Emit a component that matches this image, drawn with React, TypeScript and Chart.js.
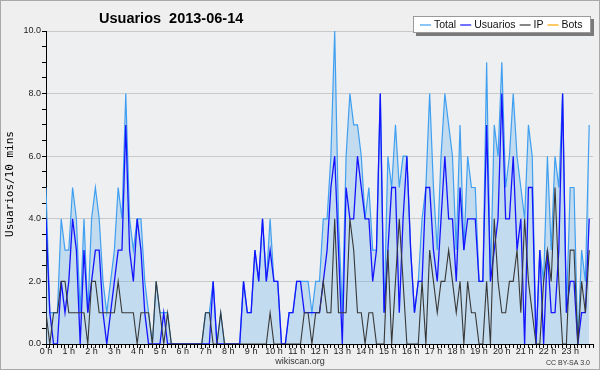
import React, { useEffect, useRef } from "react";
import { Chart, registerables } from "chart.js";

Chart.register(...registerables);

const TITLE = "Usuarios  2013-06-14";
const Y_TITLE = "Usuarios/10 mins";
const FOOTER = "wikiscan.org";
const LICENSE = "CC BY-SA 3.0";
const SERIES = ["Total", "Usuarios", "IP", "Bots"];
const HOUR_LABELS = [
  "0 h", "1 h", "2 h", "3 h", "4 h", "5 h", "6 h", "7 h", "8 h", "9 h", "10 h", "11 h",
  "12 h", "13 h", "14 h", "15 h", "16 h", "17 h", "18 h", "19 h", "20 h", "21 h", "22 h", "23 h",
];
const Y_LABELS = ["0.0", "2.0", "4.0", "6.0", "8.0", "10.0"];

// one value per 10 minutes (144 slots)
const TOTAL = [
  5, 1, 1, 1, 4, 3, 3, 5, 4, 1,
  4, 1, 4, 5, 4, 2, 1, 2, 3, 5,
  4, 8, 4, 3, 4, 4, 2, 1, 0, 2,
  1, 1, 1, 0, 0, 0, 0, 0, 0, 0,
  0, 0, 1, 1, 2, 0, 1, 0, 0, 0,
  0, 0, 2, 1, 1, 3, 2, 4, 2, 4,
  2, 2, 0, 0, 1, 1, 2, 2, 2, 2,
  1, 2, 2, 4, 4, 6, 10, 4, 1, 6,
  8, 7, 7, 6, 4, 5, 3, 3, 8, 1,
  6, 5, 7, 5, 6, 6, 3, 1, 2, 4,
  5, 8, 5, 3, 6, 8, 7, 6, 3, 7,
  3, 6, 5, 5, 2, 2, 9, 2, 7, 6,
  9, 5, 6, 8, 6, 5, 4, 7, 6, 0,
  3, 2, 6, 3, 6, 5, 8, 1, 5, 5,
  0, 3, 2, 7,
];
const USUARIOS = [
  4, 1, 0, 0, 2, 1, 2, 4, 3, 0,
  3, 1, 2, 3, 3, 1, 0, 1, 2, 3,
  3, 7, 3, 2, 4, 3, 1, 0, 0, 0,
  0, 1, 0, 0, 0, 0, 0, 0, 0, 0,
  0, 0, 0, 0, 2, 0, 0, 0, 0, 0,
  0, 0, 2, 1, 1, 3, 2, 4, 2, 3,
  2, 2, 0, 0, 1, 1, 2, 2, 1, 1,
  1, 1, 1, 2, 3, 5, 6, 3, 0, 5,
  4, 4, 6, 5, 4, 4, 2, 3, 8, 1,
  3, 5, 5, 1, 4, 6, 3, 1, 2, 2,
  5, 5, 3, 2, 4, 6, 4, 4, 2, 5,
  3, 4, 4, 4, 2, 2, 7, 2, 3, 4,
  8, 4, 4, 6, 3, 4, 0, 5, 5, 0,
  3, 0, 3, 1, 1, 3, 8, 1, 2, 2,
  0, 1, 1, 4,
];
const IP = [
  1, 0, 1, 1, 2, 2, 1, 1, 1, 1,
  1, 0, 2, 2, 1, 1, 1, 1, 1, 2,
  1, 1, 1, 1, 0, 1, 1, 1, 0, 2,
  1, 0, 1, 0, 0, 0, 0, 0, 0, 0,
  0, 0, 1, 1, 0, 0, 1, 0, 0, 0,
  0, 0, 0, 0, 0, 0, 0, 0, 0, 1,
  0, 0, 0, 0, 0, 0, 0, 0, 1, 1,
  0, 1, 1, 2, 1, 1, 4, 1, 1, 1,
  4, 3, 1, 1, 0, 1, 1, 0, 0, 0,
  3, 0, 2, 4, 2, 0, 0, 0, 0, 2,
  0, 3, 2, 1, 2, 2, 3, 2, 1, 2,
  0, 2, 1, 1, 0, 0, 2, 0, 4, 2,
  1, 1, 2, 2, 3, 1, 4, 2, 1, 0,
  0, 2, 3, 2, 5, 2, 0, 0, 3, 3,
  0, 2, 1, 3,
];
const BOTS: number[] = [];

const COLORS = ["#3f9ff0", "#1414ff", "#383838", "#ffa500"];

const toPoints = (arr: number[]) => arr.map((v, i) => ({ x: i / 6, y: v }));

const chrome = {
  id: "chrome",
  beforeDraw(chart: any) {
    const { ctx, width, height, chartArea } = chart;
    ctx.save();
    ctx.fillStyle = "#efefef";
    ctx.fillRect(0, 0, width, height);
    ctx.fillStyle = "#eeeff1";
    ctx.fillRect(chartArea.left, chartArea.top, chartArea.right - chartArea.left, chartArea.bottom - chartArea.top);
    ctx.restore();
  },
  afterDraw(chart: any) {
    const { ctx, width, height } = chart;
    ctx.save();
    // outer frame
    ctx.strokeStyle = "#a9a9a9";
    ctx.lineWidth = 1;
    ctx.strokeRect(0.5, 0.5, width - 1, height - 1);
    // title
    ctx.fillStyle = "#000";
    ctx.font = "bold 14.5px 'Liberation Sans', Arial, sans-serif";
    ctx.textAlign = "left";
    ctx.textBaseline = "alphabetic";
    ctx.fillText(TITLE, 99, 23);
    // y title
    ctx.save();
    ctx.translate(10, 184);
    ctx.rotate(-Math.PI / 2);
    ctx.font = "11px 'DejaVu Sans Mono', monospace";
    ctx.textAlign = "center";
    ctx.textBaseline = "middle";
    ctx.fillText(Y_TITLE, 0, 0);
    ctx.restore();
    // footer
    ctx.fillStyle = "#333";
    ctx.font = "9px 'Liberation Sans', Arial, sans-serif";
    ctx.textAlign = "center";
    ctx.textBaseline = "middle";
    ctx.fillText(FOOTER, 300, 362);
    ctx.font = "7px 'Liberation Sans', Arial, sans-serif";
    ctx.textAlign = "right";
    ctx.fillText(LICENSE, 590, 363);
    // legend
    const bx = 413, by = 16, bw = 178, bh = 17;
    ctx.fillStyle = "#7a7a7a";
    ctx.fillRect(bx + 3, by + 3, bw, bh);
    ctx.fillStyle = "#ffffff";
    ctx.fillRect(bx, by, bw, bh);
    ctx.strokeStyle = "#9a9a9a";
    ctx.strokeRect(bx + 0.5, by + 0.5, bw - 1, bh - 1);
    ctx.font = "10.5px 'Liberation Sans', Arial, sans-serif";
    ctx.textAlign = "left";
    ctx.textBaseline = "middle";
    let x = bx + 7;
    const cy = by + bh / 2 + 0.5;
    chart.data.datasets.forEach((ds: any) => {
      ctx.strokeStyle = ds.borderColor;
      ctx.lineWidth = 1.2;
      ctx.beginPath();
      ctx.moveTo(x, cy);
      ctx.lineTo(x + 11, cy);
      ctx.stroke();
      x += 14;
      ctx.fillStyle = "#111";
      ctx.fillText(ds.label, x, cy);
      x += ctx.measureText(ds.label).width + 4;
    });
    ctx.restore();
  },
};

export default function App() {
  const ref = useRef<HTMLCanvasElement | null>(null);
  useEffect(() => {
    if (!ref.current) return;
    const chart = new Chart(ref.current, {
      type: "line",
      data: {
        datasets: [
          {
            label: SERIES[0],
            data: toPoints(TOTAL),
            borderColor: COLORS[0],
            backgroundColor: "rgba(105,176,234,0.32)",
            fill: "origin",
            borderWidth: 1.2,
            pointRadius: 0,
            order: 3,
          },
          {
            label: SERIES[1],
            data: toPoints(USUARIOS),
            borderColor: COLORS[1],
            borderWidth: 1.3,
            pointRadius: 0,
            fill: false,
            order: 2,
          },
          {
            label: SERIES[2],
            data: toPoints(IP),
            borderColor: COLORS[2],
            borderWidth: 1.1,
            pointRadius: 0,
            fill: false,
            order: 1,
          },
          {
            label: SERIES[3],
            data: toPoints(BOTS),
            borderColor: COLORS[3],
            borderWidth: 1.1,
            pointRadius: 0,
            fill: false,
            order: 0,
          },
        ],
      },
      options: {
        animation: false,
        responsive: false,
        events: [],
        layout: { padding: { left: 0, right: 7, top: 31, bottom: 0 } },
        plugins: { legend: { display: false }, title: { display: false }, tooltip: { enabled: false } },
        elements: { line: { tension: 0 } },
        scales: {
          x: {
            type: "linear",
            min: 0,
            max: 24,
            afterBuildTicks: (scale: any) => {
              const t = [];
              for (let k = 0; k <= 144; k++) t.push({ value: k / 6 });
              scale.ticks = t;
            },
            afterFit: (scale: any) => {
              scale.height = 26;
            },
            ticks: {
              autoSkip: false,
              maxRotation: 0,
              minRotation: 0,
              padding: -2,
              color: "#222",
              font: { family: "'Liberation Sans', Arial, sans-serif", size: 9 },
              callback: (_v: any, i: number) => (i % 6 === 0 && i < 144 ? HOUR_LABELS[i / 6] : ""),
            },
            grid: {
              drawOnChartArea: false,
              drawTicks: true,
              tickLength: 4,
              tickColor: "#000",
              tickWidth: 1,
            },
            border: { display: true, color: "#000", width: 1 },
          },
          y: {
            type: "linear",
            min: 0,
            max: 10,
            afterBuildTicks: (scale: any) => {
              const t = [];
              for (let k = 0; k <= 20; k++) t.push({ value: k / 2 });
              scale.ticks = t;
            },
            afterFit: (scale: any) => {
              scale.width = 46;
            },
            ticks: {
              autoSkip: false,
              padding: 1,
              color: "#222",
              font: { family: "'Liberation Sans', Arial, sans-serif", size: 9 },
              callback: (v: any) => (Number(v) % 2 === 0 ? Y_LABELS[Number(v) / 2] : ""),
            },
            grid: {
              drawOnChartArea: true,
              drawTicks: true,
              tickLength: 4,
              tickColor: "#000",
              color: (c: any) =>
                c.tick && c.tick.value % 2 === 0 && c.tick.value > 0 ? "#c9c9c9" : "rgba(0,0,0,0)",
            },
            border: { display: true, color: "#000", width: 1 },
          },
        },
      },
      plugins: [chrome],
    } as any);
    return () => chart.destroy();
  }, []);
  return (
    <div style={{ position: "fixed", left: 0, top: 0, width: 600, height: 370 }}>
      <canvas ref={ref} width={600} height={370} style={{ display: "block" }} />
    </div>
  );
}
